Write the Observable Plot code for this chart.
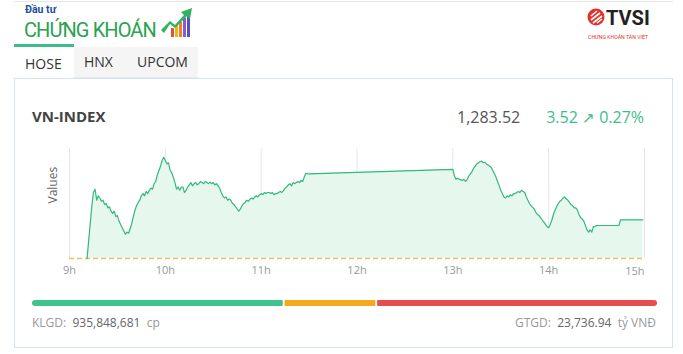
<!DOCTYPE html>
<html>
<head>
<meta charset="utf-8">
<script src="https://cdn.jsdelivr.net/npm/d3@7"></script>
<script src="https://cdn.jsdelivr.net/npm/@observablehq/plot@0.6"></script>
<style>
  html, body { margin: 0; padding: 0; background: #fff; }
  body { width: 683px; height: 354px; position: relative; overflow: hidden; font-family: "Open Sans", "Noto Sans", sans-serif; }
  .abs { position: absolute; }
  .topline { left: 14px; top: 1px; width: 659px; height: 1px; background: #e8e8e8; }
  .logo-small { left: 25px; top: 4px; font-family: Roboto, sans-serif; font-weight: 700; font-size: 10.5px; line-height: 11px; color: #1b4f9c; }
  .logo-big { left: 24px; top: 20px; font-family: Roboto, sans-serif; font-weight: 400; font-size: 20px; line-height: 20px; color: #2aa24f; letter-spacing: -0.9px; white-space: nowrap; }
  .tabs { left: 74px; top: 47px; width: 124px; height: 30px; background: #f5f5f5; border-bottom: 1px solid #e3ebf2; }
  .tabline { left: 14px; top: 44px; width: 60px; height: 3px; background: #3dbd8a; }
  .tab { top: 52px; font-size: 14px; color: #333; }
  .card { left: 14px; top: 78px; width: 657px; height: 268px; border: 1px solid #d5e3ef; }
  .title { left: 32px; top: 106px; font-weight: 700; font-size: 15px; color: #444; }
  .price { top: 106px; font-size: 16px; white-space: nowrap; }
  .foot { top: 314px; font-size: 12px; color: #999; white-space: nowrap; }
  .foot b { font-weight: 400; color: #666; }
</style>
</head>
<body>
<script>
// ---------- data ----------
const times = ["9:11","9:12","9:13","9:14","9:15","9:16","9:17","9:18","9:19","9:20","9:21","9:22","9:23","9:24","9:25","9:26","9:27","9:28","9:29","9:30",
"9:31","9:32","9:33","9:34","9:35","9:36","9:37","9:38","9:39","9:40","9:41","9:42","9:43","9:44","9:45","9:46","9:47","9:48","9:49","9:50",
"9:51","9:52","9:53","9:54","9:55","9:56","9:57","9:58","9:59","10:00","10:01","10:02","10:03","10:04","10:05","10:06","10:07","10:08","10:09","10:10",
"10:11","10:12","10:13","10:14","10:15","10:16","10:17","10:18","10:19","10:20","10:21","10:22","10:23","10:24","10:25","10:26","10:27","10:28","10:29","10:30",
"10:31","10:32","10:33","10:34","10:35","10:36","10:37","10:38","10:39","10:40","10:41","10:42","10:43","10:44","10:45","10:46","10:47","10:48","10:49","10:50",
"10:51","10:52","10:53","10:54","10:55","10:56","10:57","10:58","10:59","11:00","11:01","11:02","11:03","11:04","11:05","11:06","11:07","11:08","11:09","11:10",
"11:11","11:12","11:13","11:14","11:15","11:16","11:17","11:18","11:19","11:20","11:21","11:22","11:23","11:24","11:25","11:26","11:27","11:28","11:29","11:30",
"13:00","13:01","13:02","13:03","13:04","13:05","13:06","13:07","13:08","13:09","13:10","13:11","13:12","13:13","13:14","13:15","13:16","13:17","13:18","13:19",
"13:20","13:21","13:22","13:23","13:24","13:25","13:26","13:27","13:28","13:29","13:30","13:31","13:32","13:33","13:34","13:35","13:36","13:37","13:38","13:39",
"13:40","13:41","13:42","13:43","13:44","13:45","13:46","13:47","13:48","13:49","13:50","13:51","13:52","13:53","13:54","13:55","13:56","13:57","13:58","13:59",
"14:00","14:01","14:02","14:03","14:04","14:05","14:06","14:07","14:08","14:09","14:10","14:11","14:12","14:13","14:14","14:15","14:16","14:17","14:18","14:19",
"14:20","14:21","14:22","14:23","14:24","14:25","14:26","14:27","14:28","14:29","14:30","14:44","14:45","14:59"];
const values = [1280.00,1281.6,1283.2,1284.8,1286.0,1286.3,1285.3,1285.7,1285.5,1285.2,1285.3,1284.9,1285.0,1284.6,1284.7,1284.3,1284.1,1284.3,1283.8,1283.9,
1283.4,1283.1,1282.8,1282.5,1282.2,1282.4,1282.3,1282.7,1283.2,1283.8,1284.4,1284.8,1285.1,1285.3,1285.7,1285.9,1285.7,1286.1,1285.9,1286.2,
1286.4,1286.3,1286.8,1287.0,1287.6,1288.0,1288.4,1288.9,1289.2,1288.9,1288.6,1288.7,1288.0,1287.8,1287.4,1286.9,1286.3,1286.5,1286.2,1286.5,
1286.5,1286.0,1286.2,1286.5,1286.7,1286.9,1286.6,1286.8,1286.9,1286.7,1286.8,1287.0,1286.9,1286.8,1287.0,1286.9,1286.8,1286.95,1286.8,1286.9,
1286.7,1286.8,1286.6,1286.4,1286.0,1285.7,1285.5,1285.6,1285.3,1285.4,1285.3,1285.0,1284.9,1284.7,1284.5,1284.3,1284.5,1284.8,1285.0,1285.1,
1285.3,1285.2,1285.4,1285.5,1285.4,1285.6,1285.7,1285.6,1285.8,1285.9,1285.8,1286.0,1285.9,1286.0,1286.0,1285.9,1286.0,1285.8,1285.9,1285.9,
1286.0,1286.1,1286.0,1286.2,1286.4,1286.5,1286.7,1286.8,1286.6,1286.9,1286.8,1286.9,1287.0,1286.9,1287.1,1287.0,1287.4,1287.75,1287.7,1287.7,
1288.1,1287.5,1287.2,1287.3,1287.2,1287.15,1287.1,1287.2,1287.0,1287.2,1287.5,1287.7,1287.9,1288.2,1288.4,1288.6,1288.7,1288.8,1288.85,1288.7,
1288.75,1288.6,1288.5,1288.4,1288.3,1288.0,1287.7,1287.4,1287.0,1286.6,1286.2,1285.9,1285.6,1285.5,1285.7,1285.6,1285.8,1285.7,1285.9,1285.9,
1286.0,1286.1,1286.0,1286.2,1286.1,1286.0,1285.6,1285.3,1285.0,1284.8,1284.65,1284.5,1284.2,1284.0,1283.9,1283.7,1283.5,1283.3,1283.1,1282.9,
1282.8,1283.1,1283.5,1284.0,1284.4,1284.7,1285.0,1285.2,1285.3,1285.5,1285.6,1285.4,1285.3,1285.1,1284.9,1284.8,1284.6,1284.6,1284.4,1284.0,
1283.7,1283.6,1283.4,1283.0,1282.6,1282.4,1282.6,1282.4,1282.9,1282.9,1283.0,1283.0,1283.52,1283.52];
const reference = 1280.00;
const hourTicks = [9, 10, 11, 12, 13, 14, 15];
const breadthLabels = ["up", "unchanged", "down"];
const breadthCounts = [190, 70, 212];
const breadthColors = ["#3fc48b", "#f5a91d", "#e64d4f"];
const indexName = "VN-INDEX";
const lastPrice = "1,283.52";
const change = "3.52";
const changePct = "0.27%";
const volume = "935,848,681";
const valueTraded = "23,736.94";
const tabs = ["HOSE", "HNX", "UPCOM"];

// ---------- static layout ----------
function el(cls, html, style) {
  const d = document.createElement("div");
  d.className = "abs " + cls;
  if (html != null) d.innerHTML = html;
  if (style) d.setAttribute("style", style);
  document.body.appendChild(d);
  return d;
}
el("topline");
el("logo-small", "Đầu tư");
el("logo-big", "CHỨNG KHOÁN");
el("", `<svg width="36" height="34" viewBox="0 0 36 34">
  <rect x="11" y="23" width="3" height="9" fill="#e84e3c"/>
  <rect x="15" y="20" width="3" height="12" fill="#f2b21c"/>
  <rect x="19" y="17" width="3" height="15" fill="#f0821e"/>
  <rect x="23" y="13" width="3" height="19" fill="#8b5cc4"/>
  <rect x="27" y="10" width="3" height="22" fill="#5b4fc0"/>
  <path d="M1 25 L10 16 L15 20 L24 10 L21 7 L32 3 L30 14 L27 11 L15 23 L10 19 L4 28 Z" fill="#2fb35b"/>
</svg>`, "left:160px;top:5px;");
el("", `<svg width="80" height="42" viewBox="0 0 80 42">
  <g transform="translate(10,16)">
    <circle r="8.5" fill="#e2322b"/>
    <path d="M-5 -1 L1 -6 M-5 3 L4 -4 M-3 6 L6 -1 M1 6 L6 2" stroke="#fff" stroke-width="1.6" fill="none"/>
  </g>
  <text x="20" y="24" font-family="Roboto, sans-serif" font-weight="700" font-size="20" fill="#222">TVSI</text>
  <text x="2" y="38" font-family="Roboto, sans-serif" font-size="5.2" fill="#e2322b">CHỨNG KHOÁN TÂN VIỆT</text>
</svg>`, "left:586px;top:1px;");

el("tabs");
el("tabline");
el("tab", tabs[0], "left:25px;top:54px;");
el("tab", tabs[1], "left:84px;");
el("tab", tabs[2], "left:137px;");
el("card");
el("title", indexName);
el("price", lastPrice, "left:457px;color:#555;");
el("price", `${change} <span style="font-size:15px">&#8599;</span> ${changePct}`, "right:39px;color:#3dbd8a;");
el("foot", `KLGD:&nbsp; <b>${volume}</b>&nbsp; cp`, "left:32px;");
el("foot", `GTGD:&nbsp; <b>${valueTraded}</b>&nbsp; tỷ VNĐ`, "right:27px;");

// ---------- chart ----------
const parseT = s => { const [h, m] = s.split(":").map(Number); return h + m / 60; };
const data = times.map((s, i) => ({t: parseT(s), v: values[i]}));

const chart = Plot.plot({
  width: 683,
  height: 150,
  marginLeft: 69,
  marginRight: 39,
  marginTop: 8,
  marginBottom: 32,
  x: {domain: [9, 15]},
  y: {domain: [1280, 1290], axis: null},
  style: {fontFamily: "'Open Sans', sans-serif", background: "transparent", overflow: "visible"},
  marks: [
    Plot.ruleX(hourTicks, {y1: 1280, y2: 1290, stroke: "#e6e6e6", strokeWidth: 1}),
    Plot.areaY(data, {x: "t", y1: () => reference, y2: "v", fill: "#e6f7ee"}),
    Plot.ruleY([reference], {stroke: "#f0c35a", strokeWidth: 1.5, strokeDasharray: "5,3"}),
    Plot.lineY(data, {x: "t", y: "v", stroke: "#33b87e", strokeWidth: 1.2}),
    Plot.axisX(hourTicks.slice(0, -1), {tickSize: 0, tickPadding: 8, tickFormat: d => d + "h", fontSize: 11, color: "#999", label: null}),
    Plot.text(hourTicks.slice(-1), {x: d => d, y: () => reference, dy: 13, text: d => d + "h", textAnchor: "end", lineAnchor: "middle", fontSize: 11, fill: "#999"}),
    Plot.text(["Values"], {frameAnchor: "left", dx: -16, rotate: -90, fontSize: 12, fill: "#666"})
  ]
});
chart.style.position = "absolute";
chart.style.left = "0px";
chart.style.top = "140px";
document.body.appendChild(chart);

// ---------- breadth bar ----------
const ends = d3.cumsum(breadthCounts);
const segs = breadthCounts.map((c, i) => ({k: breadthLabels[i], x1: ends[i] - c, x2: ends[i], c: breadthColors[i]}));
const total = ends[ends.length - 1];
const bar = Plot.plot({
  width: 683,
  height: 12,
  margin: 0,
  marginLeft: 32,
  marginRight: 26,
  x: {domain: [0, total], axis: null},
  y: {axis: null},
  style: {background: "transparent"},
  marks: [
    Plot.barX([segs[0]], {x1: "x1", x2: "x2", fill: "c", rx: 3, insetTop: 3, insetBottom: 3, insetRight: 1}),
    Plot.barX([segs[2]], {x1: "x1", x2: "x2", fill: "c", rx: 3, insetTop: 3, insetBottom: 3, insetLeft: 1}),
    Plot.barX(segs, {x1: d => d.x1 + (d.k === "up" ? (d.x2 - d.x1) / 2 : 0), x2: d => d.x2 - (d.k === "down" ? (d.x2 - d.x1) / 2 : 0), fill: "c", insetTop: 3, insetBottom: 3, insetLeft: 1, insetRight: 1})
  ]
});
bar.style.position = "absolute";
bar.style.left = "0px";
bar.style.top = "297px";
document.body.appendChild(bar);
</script>
</body>
</html>
